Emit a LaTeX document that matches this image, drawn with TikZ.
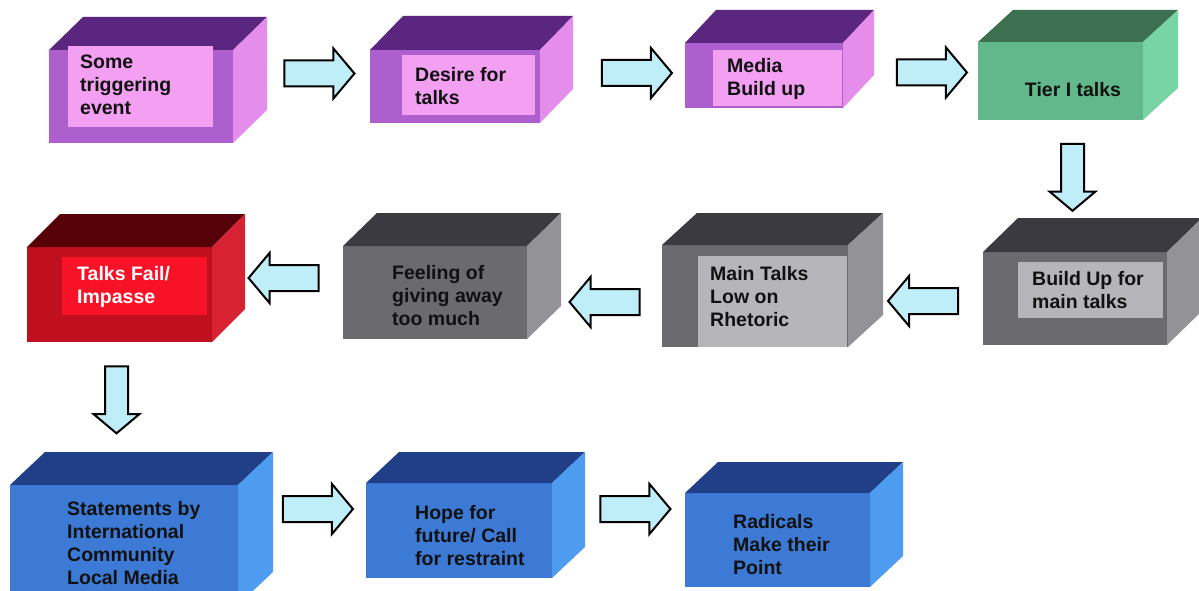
\documentclass[tikz,border=0pt]{standalone}
\usepackage{fontspec}
\setmainfont{Liberation Sans}
\usetikzlibrary{shapes.arrows}

% face colours of the cuboids
\definecolor{purtop}{HTML}{5A2680}
\definecolor{purfront}{HTML}{AD5FCE}
\definecolor{purside}{HTML}{E58DEA}
\definecolor{purpanel}{HTML}{F3A0F3}
\definecolor{grntop}{HTML}{3D7050}
\definecolor{grnfront}{HTML}{62B88A}
\definecolor{grnside}{HTML}{78D4A4}
\definecolor{grytop}{HTML}{3A3A40}
\definecolor{gryfront}{HTML}{6A6A6F}
\definecolor{gryside}{HTML}{939397}
\definecolor{grypanel}{HTML}{B6B6BA}
\definecolor{redtop}{HTML}{560008}
\definecolor{redfront}{HTML}{C01020}
\definecolor{redside}{HTML}{D62232}
\definecolor{redpanel}{HTML}{F81228}
\definecolor{blutop}{HTML}{203F88}
\definecolor{blufront}{HTML}{3C7AD6}
\definecolor{bluside}{HTML}{4E9CF0}
\definecolor{arrowfill}{HTML}{C0EEF8}
\definecolor{ink}{HTML}{111111}

\tikzset{
  face/.style={inner sep=0pt, outer sep=0pt, draw=none, anchor=north west},
  panel/.style={inner sep=0pt, outer sep=0pt, draw=none, anchor=north west},
  label/.style={anchor=west, align=left, inner sep=0pt, text=ink,
    font=\bfseries\fontsize{19.5}{23}\selectfont},
  flow/.style={single arrow, draw=black, line width=2pt, fill=arrowfill,
    inner xsep=0pt, inner ysep=12pt, single arrow head extend=12pt,
    single arrow tip angle=100, minimum height=70pt, line join=miter},
  flowdown/.style={flow, rotate=-90, inner ysep=10.5pt,
    single arrow head extend=11.5pt, minimum height=67pt},
}

% cuboid: name, left x, top y, width, height, depth x, depth y, colour prefix
\newcommand\drawcuboid[8]{%
  \node[face, fill=#8front, minimum width=#4pt, minimum height=#5pt] (#1) at (#2,#3) {};
  \fill[#8top] (#1.north west) -- ++(#6,-#7) -- ++(#4,0) -- (#1.north east) -- cycle;
  \fill[#8side] (#1.north east) -- ++(#6,-#7) -- ++(0,#5) -- (#1.south east) -- cycle;
}

\begin{document}
\begin{tikzpicture}[x=1pt, y=-1pt]
\useasboundingbox (0,0) rectangle (1199,591);
\clip (0,0) rectangle (1199,591);
\fill[white] (0,0) rectangle (1199,591);

% first row
\drawcuboid{b1}{49}{50}{184}{93}{34}{33}{pur}
\node[panel, fill=purpanel, minimum width=145pt, minimum height=81pt] (p1) at (68,46) {};
\node[label] (t1) at (80,85) {Some\\triggering\\event};

\drawcuboid{b2}{370}{50}{170}{73}{33}{34}{pur}
\node[panel, fill=purpanel, minimum width=133pt, minimum height=60pt] (p2) at (402,55) {};
\node[label] (t2) at (415,86) {Desire for\\talks};

\drawcuboid{b3}{685}{43}{158}{65}{31}{33}{pur}
\node[panel, fill=purpanel, minimum width=129pt, minimum height=56pt] (p3) at (713,50) {};
\node[label] (t3) at (727,79) {Media\\Build up};

\drawcuboid{b4}{978}{42}{165}{78}{35}{32}{grn}
\node[label, anchor=center] (t4) at (1073,90) {Tier I talks};

% second row
\drawcuboid{b5}{983}{252}{184}{93}{35}{34}{gry}
\node[panel, fill=grypanel, minimum width=145pt, minimum height=56pt] (p5) at (1018,262) {};
\node[label] (t5) at (1032,290) {Build Up for\\main talks};

\drawcuboid{b6}{662}{245}{186}{102}{35}{32}{gry}
\node[panel, fill=grypanel, minimum width=149pt, minimum height=91pt] (p6) at (698,256) {};
\node[label] (t6) at (710,297) {Main Talks\\Low on\\Rhetoric};

\drawcuboid{b7}{343}{246}{184}{93}{34}{33}{gry}
\node[label] (t7) at (392,296) {Feeling of\\giving away\\too much};

\drawcuboid{b8}{27}{247}{185}{95}{33}{33}{red}
\node[panel, fill=redpanel, minimum width=145pt, minimum height=58pt] (p8) at (62,257) {};
\node[label, text=white] (t8) at (77,287) {Talks Fail/\\Impasse};

% third row
\drawcuboid{b9}{10}{485}{228}{120}{35}{33}{blu}
\node[label] (t9) at (67,543) {Statements by\\International\\Community\\Local Media};

\drawcuboid{b10}{366}{483}{186}{95}{33}{31}{blu}
\node[label] (t10) at (415,536) {Hope for\\future/ Call\\for restraint};

\drawcuboid{b11}{685}{493}{185}{94}{33}{31}{blu}
\node[label] (t11) at (733,545) {Radicals\\Make their\\Point};

% block arrows between the steps
\node[flow] (a12) at (314,73.5) {};
\node[flow] (a23) at (631.5,73) {};
\node[flow] (a34) at (926.5,72.5) {};
\node[flowdown] (a45) at (1072.5,172.5) {};
\node[flow, rotate=180] (a56) at (928.5,301) {};
\node[flow, rotate=180] (a67) at (610,302) {};
\node[flow, rotate=180] (a78) at (289,278) {};
\node[flowdown] (a89) at (116.5,395) {};
\node[flow] (a910) at (312.5,509) {};
\node[flow] (a1011) at (630,509) {};
\end{tikzpicture}
\end{document}
